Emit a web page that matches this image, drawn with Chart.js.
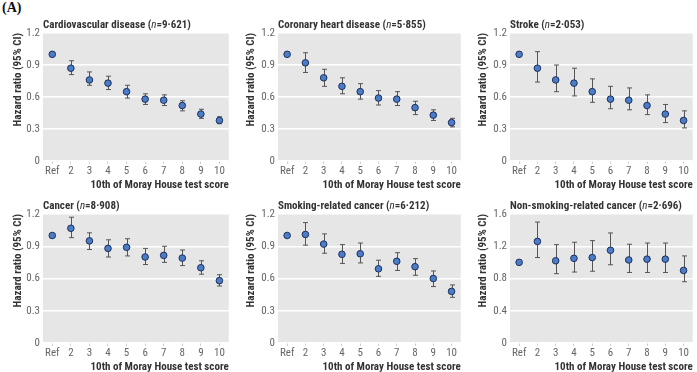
<!DOCTYPE html>
<html>
<head>
<meta charset="utf-8">
<script src="https://cdn.jsdelivr.net/npm/chart.js@4/dist/chart.umd.min.js"></script>
<style>
    body { margin: 0; background: #fff; width: 697px; height: 372px; position: relative; overflow: hidden; }
    .panel { position: absolute; }
    #tag { position: absolute; left: 2px; top: 0px; font: bold 14px "Liberation Serif", serif; color: #111; }
</style>
</head>
<body>
<div id="tag">(A)</div>
<div class="panel" style="left:0px;top:14px;width:233px;height:176px"><canvas id="chart1"></canvas></div>
<div class="panel" style="left:234px;top:14px;width:231px;height:176px"><canvas id="chart2"></canvas></div>
<div class="panel" style="left:466px;top:14px;width:231px;height:176px"><canvas id="chart3"></canvas></div>
<div class="panel" style="left:0px;top:195px;width:233px;height:177px"><canvas id="chart4"></canvas></div>
<div class="panel" style="left:234px;top:195px;width:231px;height:177px"><canvas id="chart5"></canvas></div>
<div class="panel" style="left:466px;top:195px;width:231px;height:177px"><canvas id="chart6"></canvas></div>
<script>
const tenths = ['Ref', '2', '3', '4', '5', '6', '7', '8', '9', '10']

const cvdHr = [1.0, 0.87, 0.76, 0.73, 0.65, 0.58, 0.57, 0.52, 0.44, 0.38]
const cvdLow = [null, 0.81, 0.71, 0.67, 0.59, 0.53, 0.52, 0.47, 0.40, 0.35]
const cvdHigh = [null, 0.94, 0.835, 0.795, 0.71, 0.63, 0.62, 0.565, 0.485, 0.415]

const chdHr = [1.0, 0.92, 0.78, 0.70, 0.65, 0.59, 0.58, 0.50, 0.43, 0.36]
const chdLow = [null, 0.83, 0.70, 0.63, 0.58, 0.525, 0.52, 0.435, 0.38, 0.32]
const chdHigh = [null, 1.015, 0.86, 0.78, 0.725, 0.66, 0.65, 0.56, 0.48, 0.40]

const strokeHr = [1.0, 0.87, 0.76, 0.73, 0.65, 0.58, 0.57, 0.52, 0.44, 0.38]
const strokeLow = [null, 0.74, 0.65, 0.61, 0.55, 0.49, 0.48, 0.435, 0.36, 0.31]
const strokeHigh = [null, 1.025, 0.90, 0.87, 0.77, 0.70, 0.685, 0.62, 0.53, 0.47]

const cancerHr = [1.0, 1.067, 0.95, 0.88, 0.89, 0.80, 0.815, 0.79, 0.70, 0.58]
const cancerLow = [null, 0.98, 0.87, 0.80, 0.81, 0.73, 0.75, 0.72, 0.64, 0.53]
const cancerHigh = [null, 1.17, 1.025, 0.96, 0.97, 0.88, 0.90, 0.865, 0.765, 0.635]

const smokingHr = [1.0, 1.01, 0.92, 0.825, 0.83, 0.69, 0.76, 0.71, 0.60, 0.48]
const smokingLow = [null, 0.91, 0.835, 0.74, 0.745, 0.62, 0.675, 0.63, 0.525, 0.425]
const smokingHigh = [null, 1.12, 1.015, 0.915, 0.93, 0.77, 0.84, 0.785, 0.67, 0.54]

const nonSmokingHr = [1.0, 1.26, 1.02, 1.05, 1.06, 1.15, 1.03, 1.04, 1.04, 0.90]
const nonSmokingLow = [null, 1.06, 0.86, 0.88, 0.89, 0.97, 0.875, 0.875, 0.875, 0.76]
const nonSmokingHigh = [null, 1.50, 1.22, 1.25, 1.27, 1.365, 1.225, 1.24, 1.24, 1.08]

const narrow = '"Liberation Sans Narrow", "Roboto Condensed", "Liberation Sans", sans-serif'

// grey panel behind the plot
const panelBackground = {
    id: 'panelBackground',
    beforeDraw(chart) {
        const { ctx, chartArea: a } = chart
        ctx.save()
        ctx.fillStyle = '#e6e6e6'
        ctx.fillRect(a.left, a.top, a.right - a.left, a.bottom - a.top)
        ctx.restore()
    }
}

// title with italic n, aligned with the plot
const panelTitle = {
    id: 'panelTitle',
    afterDraw(chart, args, opts) {
        const { ctx, chartArea: a } = chart
        const parts = [[opts.name + ' (', false], ['n', true], ['=' + opts.n + ')', false]]
        let x = a.left
        ctx.save()
        ctx.fillStyle = '#333'
        ctx.textBaseline = 'alphabetic'
        parts.forEach(([txt, it]) => {
            ctx.font = (it ? 'italic ' : 'bold ') + '11px ' + narrow
            ctx.fillText(txt, x, a.top - 5)
            x += ctx.measureText(txt).width
        })
        ctx.restore()
    }
}

// 95% CI whiskers
const errorBars = {
    id: 'errorBars',
    beforeDatasetsDraw(chart, args, opts) {
        const { ctx, scales: { x, y } } = chart
        ctx.save()
        ctx.strokeStyle = '#555'
        ctx.lineWidth = 1
        opts.low.forEach((lo, i) => {
            const hi = opts.high[i]
            if (lo == null) return
            const px = Math.round(x.getPixelForValue(i)) + 0.5
            const yl = y.getPixelForValue(lo)
            const yh = y.getPixelForValue(hi)
            ctx.beginPath()
            ctx.moveTo(px, yl); ctx.lineTo(px, yh)
            ctx.moveTo(px - 2.5, yl); ctx.lineTo(px + 2.5, yl)
            ctx.moveTo(px - 2.5, yh); ctx.lineTo(px + 2.5, yh)
            ctx.stroke()
        })
        ctx.restore()
    }
}


function printPanel(id, name, n, hr, low, high, max, step, axisWidth, titlePad) {

    const data = {
        labels: tenths,
        datasets: [{
            data: hr,
            showLine: false,
            pointRadius: 3.3,
            pointHoverRadius: 3.3,
            pointBackgroundColor: '#4a7cc8',
            pointBorderColor: '#1e2f5a',
            pointBorderWidth: 1
        }]
    }

    const options = {
        animation: false,
        responsive: true,
        maintainAspectRatio: false,
        layout: { padding: { top: 19, right: 2, left: 0, bottom: 0 } },
        plugins: {
            legend: { display: false },
            tooltip: { enabled: false },
            panelTitle: { name, n },
            errorBars: { low, high }
        },
        scales: {
            x: {
                offset: true,
                grid: { drawOnChartArea: false, drawTicks: true, tickLength: 3, color: '#cfcfcf' },
                border: { display: false },
                ticks: { color: '#666', padding: 1, font: { family: narrow, size: 11 }, maxRotation: 0, autoSkip: false },
                title: {
                    display: true,
                    text: '10th of Moray House test score',
                    align: 'end',
                    color: '#333',
                    padding: { top: 0, bottom: -2 },
                    font: { family: narrow, size: 11, weight: 'bold' }
                },
                afterFit: s => { s.height = 29 }
            },
            y: {
                min: 0,
                max: max,
                ticks: { stepSize: step, color: '#666', padding: 3, font: { family: narrow, size: 11 } },
                grid: { color: '#fff', lineWidth: 1.5, drawTicks: false },
                border: { display: false },
                title: {
                    display: true,
                    text: 'Hazard ratio (95% CI)',
                    align: 'end',
                    color: '#333',
                    padding: { top: titlePad, bottom: 0 },
                    font: { family: narrow, size: 11, weight: 'bold' }
                },
                afterFit: s => { s.width = axisWidth }
            }
        }
    }

    new Chart(id, { type: 'line', data, options, plugins: [panelBackground, errorBars, panelTitle] })
}

printPanel('chart1', 'Cardiovascular disease', '9·621', cvdHr, cvdLow, cvdHigh, 1.2, 0.3, 43, 12)
printPanel('chart2', 'Coronary heart disease', '5·855', chdHr, chdLow, chdHigh, 1.2, 0.3, 44, 11)
printPanel('chart3', 'Stroke', '2·053', strokeHr, strokeLow, strokeHigh, 1.2, 0.3, 44, 11)
printPanel('chart4', 'Cancer', '8·908', cancerHr, cancerLow, cancerHigh, 1.2, 0.3, 43, 12)
printPanel('chart5', 'Smoking-related cancer', '6·212', smokingHr, smokingLow, smokingHigh, 1.2, 0.3, 44, 11)
printPanel('chart6', 'Non-smoking-related cancer', '2·696', nonSmokingHr, nonSmokingLow, nonSmokingHigh, 1.6, 0.4, 44, 11)
</script>
</body>
</html>
